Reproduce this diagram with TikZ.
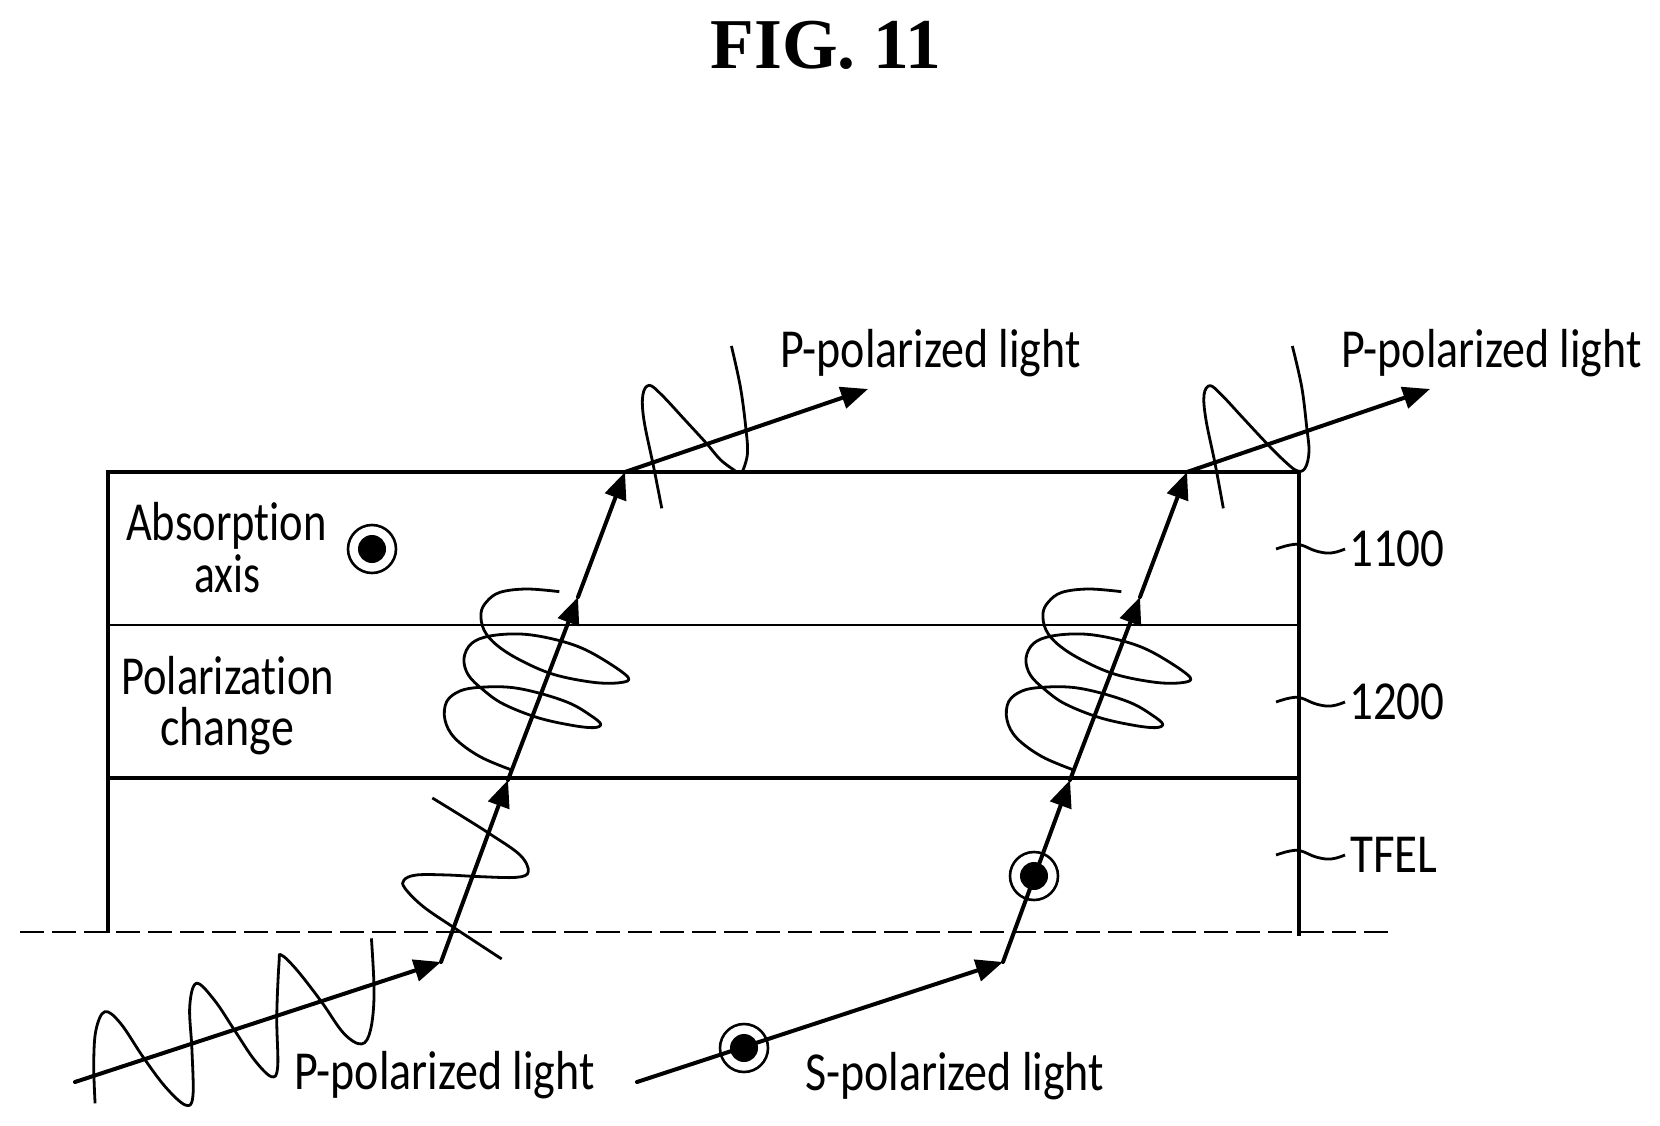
\documentclass[tikz,border=0pt]{standalone}
\usepackage{fontspec}
\usepackage{graphicx}
\setmainfont{Carlito}[Ligatures={NoCommon,NoRequired,NoContextual}]
\newfontfamily\titlefont{Liberation Serif}[BoldFont={Liberation Serif Bold}]
\usetikzlibrary{arrows.meta}
\newcommand\nar[2][.836]{\scalebox{#1}[1]{#2}}
\newcommand\spiralpath{\draw[wave] plot[smooth,tension=.6] coordinates {(395,630)(300,590)(225,535)(195,480)(200,425)(240,393)(300,382)(390,382)(480,400)(570,430)(630,465)(662,492)(640,503)(570,495)(470,472)(370,432)(310,390)(265,345)(252,295)(275,250)(330,228)(420,222)(510,235)(600,262)(680,305)(745,353)(720,368)(640,367)(520,343)(420,300)(350,255)(312,210)(303,160)(320,125)(360,97)(440,87)(538,95)};}
\newcommand\tickpath{\draw[wave] plot[smooth,tension=.7] coordinates {(0,0)(14,-4)(25,-4)(40,2)(55,4)(69,0)};}
\tikzset{
  frameline/.style={line width=4pt,line cap=rect},
  wave/.style={line width=2.8pt,line join=round},
  ray/.style={line width=4pt,line cap=round,-{Triangle[length=27pt,width=22pt]}},
  lab/.style={inner sep=0pt,anchor=base west,font=\fontsize{55}{55}\selectfont},
  ring/.style={draw,line width=2.6pt,circle,minimum size=48pt,inner sep=0pt},
  core/.style={fill,circle,minimum size=28pt,inner sep=0pt},
}
\begin{document}
\begin{tikzpicture}[x=1pt,y=-1pt]
\useasboundingbox (0,0) rectangle (1660,1126);
% layers
\coordinate (tl) at (107.7,472);
\coordinate (tr) at (1299,472);
\coordinate (bl) at (107.7,933);
\coordinate (br) at (1299,936);
\coordinate (ml) at (107.7,625);
\coordinate (mr) at (1299,625);
\coordinate (ll) at (107.7,778);
\coordinate (lr) at (1299,778);
\coordinate (dl) at (20,932);
\coordinate (dr) at (1392,932);
\draw[line width=2.4pt,dash pattern=on 24pt off 8pt] (dl) -- (dr);
\draw[frameline,line cap=butt,line join=miter] (bl) -- (tl) -- (tr) -- (br);
\draw[line width=2.4pt] (ml) -- (mr);
\draw[line width=3.4pt] (ll) -- (lr);
% left ray
\coordinate (a0) at (75,1082);
\coordinate (a1) at (441,962);
\coordinate (a2) at (508,780);
\coordinate (a3) at (578,597);
\coordinate (a4) at (625,472);
\coordinate (a5) at (868,389);
\draw[ray] (a0) -- (a1);
\draw[ray] (a1) -- (a2);
\draw[ray] (a2) -- (a3);
\draw[ray] (a3) -- (a4);
\draw[ray] (a4) -- (a5);
% right ray
\coordinate (b0) at (637,1082);
\coordinate (b1) at (1003,962);
\coordinate (b2) at (1070,780);
\coordinate (b3) at (1140,597);
\coordinate (b4) at (1187,472);
\coordinate (b5) at (1430,389);
\draw[ray] (b0) -- (b1);
\draw[ray] (b1) -- (b2);
\draw[ray] (b2) -- (b3);
\draw[ray] (b3) -- (b4);
\draw[ray] (b4) -- (b5);
% incoming P wave
\begin{scope}[shift={(0pt,-850pt)},x=.4464pt,y=-.3333pt]
\draw[wave] plot[smooth,tension=.6] coordinates {(213,760)(210,640)(215,540)(235,485)(270,520)(320,620)(370,710)(415,765)(432,740)(430,600)(425,470)(440,400)(480,450)(525,540)(570,630)(608,680)(622,650)(620,500)(625,340)(630,315)(665,360)(720,455)(770,550)(810,582)(830,540)(838,430)(832,265)};
\end{scope}
% TFEL wave
\begin{scope}[shift={(380pt,-560pt)},x=.3333pt,y=-.3333pt]
\draw[wave] plot[smooth,tension=.6] coordinates {(365,1197)(225,1105)(130,1040)(75,985)(72,960)(110,945)(200,945)(300,950)(410,952)(445,935)(420,885)(330,822)(240,765)(157,714)};
\spiralpath
\end{scope}
\begin{scope}[shift={(942pt,-560pt)},x=.3333pt,y=-.3333pt]
\spiralpath
\end{scope}
% outgoing waves
\begin{scope}[shift={(560pt,-320pt)},x=.3571pt,y=-.3333pt]
\draw[wave] plot[smooth,tension=.6] coordinates {(285,565)(262,440)(235,300)(232,225)(250,196)(285,225)(350,300)(410,370)(450,420)(490,452)};
\draw[wave] plot[smooth,tension=.6] coordinates {(512,452)(525,400)(520,320)(505,200)(480,78)};
\end{scope}
\begin{scope}[shift={(1180pt,-320pt)},x=.3333pt,y=-.3333pt]
\draw[wave] plot[smooth,tension=.6] coordinates {(130,565)(105,430)(78,300)(72,225)(90,197)(125,225)(190,295)(260,370)(310,420)(350,452)(375,445)(387,395)(380,320)(365,200)(337,78)};
\end{scope}
% reference ticks
\begin{scope}[shift={(1276pt,-549pt)}]\tickpath\end{scope}
\begin{scope}[shift={(1276pt,-702pt)}]\tickpath\end{scope}
\begin{scope}[shift={(1276pt,-855pt)}]\tickpath\end{scope}
% out-of-plane symbols
\node[ring] (c1) at (372,549) {};
\node[core] (d1) at (c1) {};
\node[ring] (c2) at (1034,876) {};
\node[core] (d2) at (c2) {};
\node[ring] (c3) at (744,1048) {};
\node[core] (d3) at (c3) {};
% texts
\node[inner sep=0pt,anchor=base,font=\titlefont\bfseries\fontsize{71.5}{72}\selectfont] (title) at (826,69) {FIG. 11};
\node[lab] (t1) at (126,540) {\nar[.81]{Absorption}};
\node[lab] (t2) at (194,592) {\nar[.79]{axis}};
\node[lab] (t3) at (121,694) {\nar[.81]{Polarization}};
\node[lab] (t4) at (160,745) {\nar[.835]{change}};
\node[lab] (t5) at (294,1089) {\nar{P-polarized light}};
\node[lab] (t6) at (805,1090) {\nar{S-polarized light}};
\node[lab] (t7) at (780,367) {\nar{P-polarized light}};
\node[lab] (t8) at (1341,367) {\nar{P-polarized light}};
\node[lab] (t9) at (1349,566) {\nar[.855]{1100}};
\node[lab] (t10) at (1349,719) {\nar[.855]{1200}};
\node[lab] (t11) at (1350,872) {\nar[.855]{TFEL}};
\end{tikzpicture}
\end{document}
